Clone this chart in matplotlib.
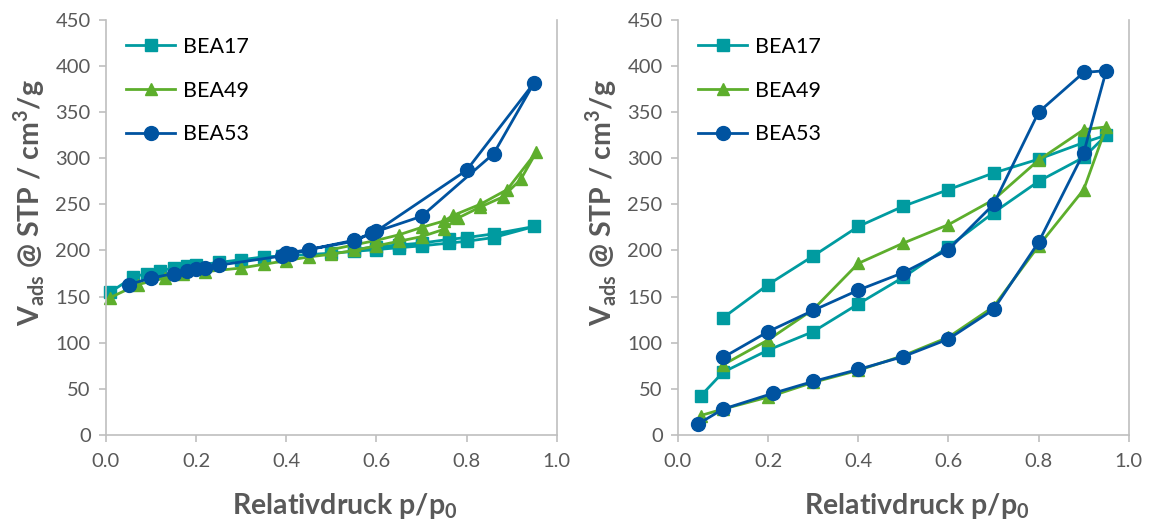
import matplotlib
matplotlib.use('Agg')
import matplotlib.pyplot as plt

plt.rcParams['font.family'] = ['Lato', 'DejaVu Sans']
plt.rcParams['mathtext.fontset'] = 'custom'
plt.rcParams['mathtext.rm'] = 'Lato'
plt.rcParams['mathtext.bf'] = 'Lato:bold'

### DATOS ###
# izquierda (ads + des en una linea)
bea17_l_x = [0.01, 0.06, 0.09, 0.12, 0.15, 0.18, 0.20, 0.25, 0.30, 0.35, 0.39, 0.50, 0.55, 0.60, 0.65, 0.70, 0.76, 0.80, 0.86, 0.95,
             0.86, 0.80, 0.76, 0.70, 0.65, 0.60, 0.55]
bea17_l_y = [155, 171, 175, 178, 181, 183, 184, 187, 190, 193, 194, 197, 199, 201, 203, 205, 208, 210, 214, 226,
             218, 214, 212, 208, 206, 204, 201]

bea49_l_x = [0.01, 0.07, 0.13, 0.17, 0.22, 0.30, 0.35, 0.40, 0.45, 0.50, 0.55, 0.60, 0.65, 0.70, 0.75, 0.78, 0.83, 0.88, 0.92, 0.955,
             0.89, 0.83, 0.77, 0.75, 0.70, 0.65, 0.60, 0.55, 0.50]
bea49_l_y = [149, 163, 170, 174, 177, 181, 185, 189, 193, 196, 200, 205, 210, 215, 223, 235, 247, 258, 277, 307,
             266, 250, 238, 232, 225, 217, 211, 206, 201]

bea53_l_x = [0.05, 0.10, 0.15, 0.18, 0.20, 0.22, 0.25, 0.39, 0.41, 0.45, 0.55, 0.59, 0.70, 0.86, 0.95,
             0.80, 0.60, 0.55, 0.45, 0.40]
bea53_l_y = [163, 170, 175, 178, 180, 181, 184, 194, 196, 201, 210, 219, 237, 305, 382,
             287, 221, 211, 201, 197]

# derecha
bea17_r_x = [0.05, 0.10, 0.20, 0.30, 0.40, 0.50, 0.60, 0.70, 0.80, 0.90, 0.95,
             0.90, 0.80, 0.70, 0.60, 0.50, 0.40, 0.30, 0.20, 0.10]
bea17_r_y = [42, 68, 92, 112, 142, 171, 204, 241, 275, 301, 325,
             317, 299, 284, 266, 248, 226, 194, 163, 127]

bea49_r_x = [0.05, 0.10, 0.20, 0.30, 0.40, 0.50, 0.60, 0.70, 0.80, 0.90, 0.95,
             0.90, 0.80, 0.70, 0.60, 0.50, 0.40, 0.30, 0.20, 0.10]
bea49_r_y = [21, 28, 41, 57, 70, 86, 106, 139, 205, 266, 334,
             331, 298, 255, 228, 208, 186, 136, 103, 76]

bea53_r_x = [0.045, 0.10, 0.21, 0.30, 0.40, 0.50, 0.60, 0.70, 0.80, 0.90, 0.95,
             0.90, 0.80, 0.70, 0.60, 0.50, 0.40, 0.30, 0.20, 0.10]
bea53_r_y = [12, 28, 45, 58, 71, 85, 104, 136, 209, 306, 395,
             393, 350, 250, 201, 176, 157, 135, 112, 84]

labels = ['BEA17', 'BEA49', 'BEA53']
colors = ['#009BA0', '#5DAE2C', '#0053A0']
markers = ['s', '^', 'o']
msizes = [8, 8.5, 10]

GRIS = '#BFBFBF'
TXT = '#595959'

fig = plt.figure(figsize=(11.53, 5.24), dpi=100)
ax1 = fig.add_axes([0.0919, 0.170, 0.391, 0.792])
ax2 = fig.add_axes([0.588, 0.170, 0.391, 0.792])

datos = [
    (ax1, [(bea17_l_x, bea17_l_y), (bea49_l_x, bea49_l_y), (bea53_l_x, bea53_l_y)]),
    (ax2, [(bea17_r_x, bea17_r_y), (bea49_r_x, bea49_r_y), (bea53_r_x, bea53_r_y)]),
]

for ax, series in datos:
    for (xs, ys), lab, c, m, ms in zip(series, labels, colors, markers, msizes):
        ax.plot(xs, ys, color=c, marker=m, markersize=ms, lw=2, label=lab, clip_on=False)

    ax.set_xlim(0, 1.0)
    ax.set_ylim(0, 450)
    ax.set_xticks([0, 0.2, 0.4, 0.6, 0.8, 1.0])
    ax.set_xticklabels(['0.0', '0.2', '0.4', '0.6', '0.8', '1.0'])
    ax.set_yticks(range(0, 451, 50))
    ax.spines['top'].set_visible(False)
    for s in ['left', 'bottom', 'right']:
        ax.spines[s].set_color(GRIS)
        ax.spines[s].set_linewidth(1.2)
    ax.tick_params(axis='both', direction='out', length=5, width=1.2, color=GRIS,
                   labelcolor=TXT, labelsize=14.5, pad=6)
    ax.tick_params(axis='x', pad=8)

    ax.set_xlabel(r'Relativdruck p/p$_{\mathbf{0}}$', fontsize=20.5, fontweight='bold', color=TXT)
    ax.set_ylabel(r'V$_{\mathbf{ads}}$ @ STP / cm$^{\mathbf{3}}$/g', fontsize=20.5, fontweight='bold', color=TXT)
    ax.xaxis.set_label_coords(0.53, -0.135)
    ax.yaxis.set_label_coords(-0.13, 0.56)

    leg = ax.legend(loc='upper left', frameon=False, fontsize=15.5, handlelength=2.3,
                    labelspacing=1.1, borderaxespad=0.0, handletextpad=0.35,
                    bbox_to_anchor=(0.025, 0.98))

fig.savefig('out.png', dpi=100)
